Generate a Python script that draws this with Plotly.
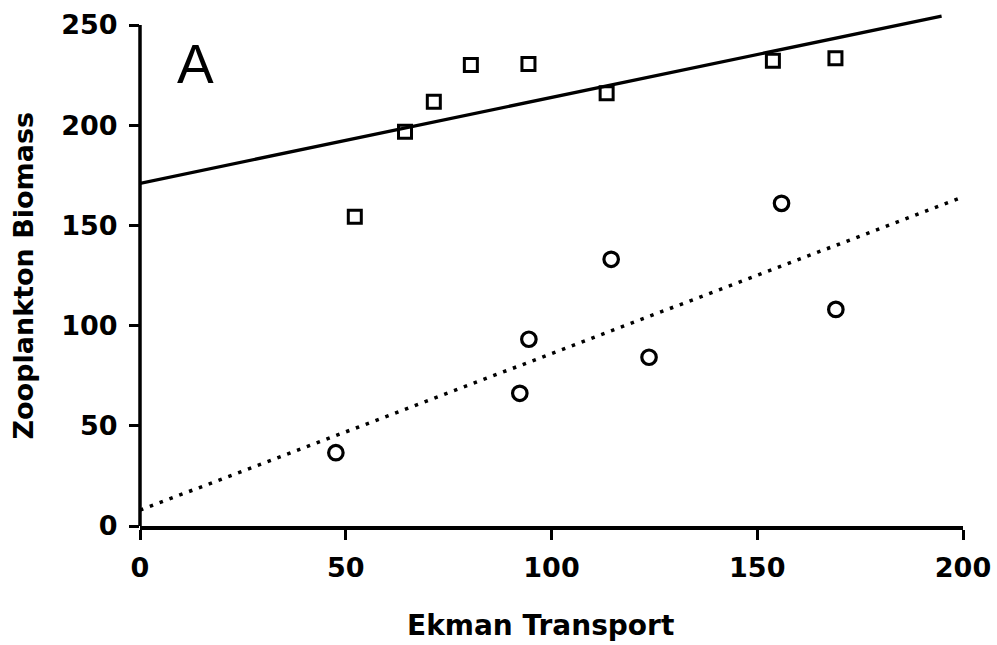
import plotly.graph_objects as go

# Data
square_x = [52.2, 64.4, 71.4, 80.4, 94.4, 113.4, 153.8, 169.0]
square_y = [154.3, 196.8, 211.7, 230.0, 230.5, 215.9, 232.2, 233.4]
circle_x = [47.6, 92.3, 94.5, 114.5, 123.7, 155.9, 169.1]
circle_y = [36.6, 66.2, 93.2, 133.1, 84.2, 161.0, 108.1]
solid_fit_x = [0, 194.8]
solid_fit_y = [171.0, 254.5]
dotted_fit_x = [0, 200]
dotted_fit_y = [7.9, 164.2]
x_ticks = [0, 50, 100, 150, 200]
y_ticks = [0, 50, 100, 150, 200, 250]
x_title = "Ekman Transport"
y_title = "Zooplankton Biomass"
panel_label = "A"

BOLD = "DejaVu Sans"
fig = go.Figure()
fig.add_trace(go.Scatter(x=solid_fit_x, y=solid_fit_y, mode="lines",
                         line=dict(color="black", width=3.3), showlegend=False))
fig.add_trace(go.Scatter(x=dotted_fit_x, y=dotted_fit_y, mode="lines",
                         line=dict(color="black", width=3.5, dash="3.5px,7px"), showlegend=False))
fig.add_trace(go.Scatter(x=square_x, y=square_y, mode="markers",
                         marker=dict(symbol="square-open", size=13, color="black",
                                     line=dict(width=3, color="black")),
                         showlegend=False, cliponaxis=False))
fig.add_trace(go.Scatter(x=circle_x, y=circle_y, mode="markers",
                         marker=dict(symbol="circle-open", size=14.5, color="black",
                                     line=dict(width=3.2, color="black")),
                         showlegend=False, cliponaxis=False))

fig.update_layout(
    template="none",
    width=997, height=645,
    margin=dict(l=140, r=34, t=13, b=119),
    paper_bgcolor="white", plot_bgcolor="white",
    xaxis=dict(range=[0, 200], tickvals=x_ticks, ticktext=[str(v) for v in x_ticks],
               automargin=False,
               showgrid=False, zeroline=False, showline=True, linecolor="black", linewidth=3.5,
               ticks="outside", ticklen=10, tickwidth=3, tickcolor="black",
               ticklabelstandoff=5,
               tickfont=dict(family=BOLD, size=27, color="black", weight="bold")),
    yaxis=dict(range=[0, 256], tickvals=y_ticks, ticktext=[str(v) for v in y_ticks],
               automargin=False,
               showgrid=False, zeroline=False, showline=False,
               ticks="outside", ticklen=10, tickwidth=3, tickcolor="black",
               ticklabelstandoff=6,
               tickfont=dict(family=BOLD, size=27, color="black", weight="bold")),
    shapes=[dict(type="line", xref="paper", yref="y", x0=0, x1=0, y0=-2, y1=250,
                 line=dict(color="black", width=3.5))],
    annotations=[
        dict(text=x_title, xref="x", yref="paper", x=100, y=0, xshift=-11, yshift=-99,
             xanchor="center", yanchor="middle", showarrow=False,
             font=dict(family=BOLD, size=28, color="black", weight="bold")),
        dict(text=y_title, xref="paper", yref="y", x=0, y=125, xshift=-116,
             xanchor="center", yanchor="middle", textangle=-90, showarrow=False,
             font=dict(family=BOLD, size=27, color="black", weight="bold")),
        dict(text=panel_label, xref="x", yref="y", x=13.6, y=230.5,
             xanchor="center", yanchor="middle", showarrow=False,
             font=dict(family="Liberation Sans", size=55, color="black")),
    ],
)

fig.write_html("out.html")
